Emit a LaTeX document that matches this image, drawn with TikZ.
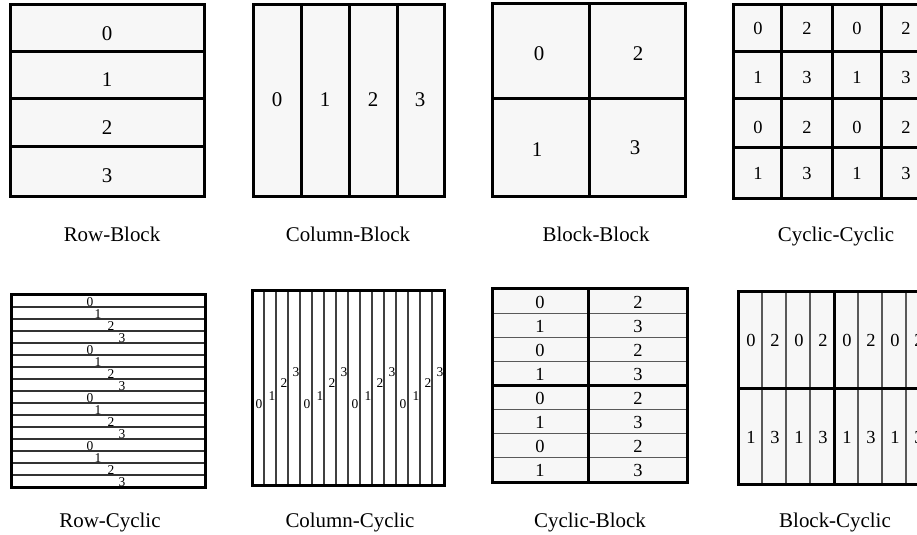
\documentclass[tikz,border=0pt]{standalone}
\usepackage{fontspec}
\setmainfont{Liberation Serif}
\begin{document}
\begin{tikzpicture}[x=1bp,y=-1bp,
  thickline/.style={line width=3bp, draw=black},
  thinline/.style={line width=1.1bp, draw=black!65},
  cellfill/.style={fill=black!3},
  bignum/.style={font=\fontsize{21}{21}\selectfont, inner sep=0pt},
  midnum/.style={font=\fontsize{18.5}{18.5}\selectfont, inner sep=0pt},
  smallnum/.style={font=\fontsize{13.5}{13.5}\selectfont, inner sep=0pt},
  caption/.style={font=\fontsize{21}{21}\selectfont, inner sep=0pt, anchor=base}]
\useasboundingbox (0,0) rectangle (917,535);
\clip (0,0) rectangle (917,535);

% ---------- Panel 1: Row-Block ----------
\fill[cellfill] (10,5) rectangle (204,197);
\foreach \y in {52,99,147} \draw[thickline] (10,\y) -- (204,\y);
\draw[thickline] (10,5) rectangle (204,197);
\foreach \d/\y in {0/34,1/80,2/128,3/176} \node[bignum] (rb\d) at (107,\y) {\d};
\node[caption] (caprb) at (112,242) {Row-Block};

% ---------- Panel 2: Column-Block ----------
\fill[cellfill] (253,5) rectangle (444,197);
\foreach \x in {301,349,397} \draw[thickline] (\x,5) -- (\x,197);
\draw[thickline] (253,5) rectangle (444,197);
\foreach \d/\x in {0/277,1/325,2/373,3/420} \node[bignum] (cb\d) at (\x,100) {\d};
\node[caption] (capcb) at (348,242) {Column-Block};

% ---------- Panel 3: Block-Block ----------
\fill[cellfill] (492,4) rectangle (685,197);
\draw[thickline] (589,4) -- (589,197);
\draw[thickline] (492,99) -- (685,99);
\draw[thickline] (492,4) rectangle (685,197);
\node[bignum] (bb0) at (539,54) {0};
\node[bignum] (bb2) at (638,54) {2};
\node[bignum] (bb1) at (537,150) {1};
\node[bignum] (bb3) at (635,148) {3};
\node[caption] (capbb) at (596,242) {Block-Block};

% ---------- Panel 4: Cyclic-Cyclic ----------
\fill[cellfill] (733,5) rectangle (930,199);
\foreach \x in {781,832,881} \draw[thickline] (\x,5) -- (\x,199);
\foreach \y in {52,99,148} \draw[thickline] (733,\y) -- (930,\y);
\draw[thickline] (733,5) rectangle (930,199);
\foreach \r/\y in {0/28,1/77,2/127,3/173}
  \foreach \c/\x in {0/758,1/807,2/857,3/906} {
    \pgfmathtruncatemacro{\lab}{mod(\r,2)+2*mod(\c,2)}
    \node[midnum] (cc\r\c) at (\x,\y) {\lab};
  }
\node[caption] (capcc) at (836,242) {Cyclic-Cyclic};

% ---------- Panel 5: Row-Cyclic ----------
\fill[white] (11,295) rectangle (205,487);
\foreach \k in {1,...,15} \draw[thinline, draw=black!80] (11,295+12*\k) -- (205,295+12*\k);
\draw[thickline] (11,295) rectangle (205,487);
\foreach \k in {0,...,15} {
  \pgfmathtruncatemacro{\lab}{mod(\k,4)}
  \pgfmathsetmacro{\xx}{\lab==0 ? 90 : (\lab==1 ? 98 : (\lab==2 ? 111 : 122))}
  \node[smallnum] (rc\k) at (\xx,302.5+12*\k) {\lab};
}
\node[caption] (caprc) at (110,527) {Row-Cyclic};

% ---------- Panel 6: Column-Cyclic ----------
\fill[white] (252,291) rectangle (444,485);
\foreach \k in {1,...,15} \draw[thinline, draw=black!75] (252+12*\k,291) -- (252+12*\k,485);
\draw[thickline] (252,291) rectangle (444,485);
\foreach \g in {0,...,3}
  \foreach \d/\dx/\y in {0/7/404,1/20/396,2/32/383,3/44/372}
    \node[smallnum] (ccy\g\d) at (252+48*\g+\dx,\y) {\d};
\node[caption] (capccy) at (350,527) {Column-Cyclic};

% ---------- Panel 7: Cyclic-Block ----------
\fill[cellfill] (492,289) rectangle (687,482);
\foreach \k in {1,2,3,5,6,7} \draw[thinline] (492,289+24.1*\k) -- (687,289+24.1*\k);
\draw[thickline] (492,385) -- (687,385);
\draw[thickline] (588,289) -- (588,482);
\draw[thickline] (492,289) rectangle (687,482);
\foreach \k in {0,...,7} {
  \pgfmathtruncatemacro{\la}{mod(\k,2)}
  \pgfmathtruncatemacro{\lb}{mod(\k,2)+2}
  \node[midnum] (cyb\k a) at (540,302+24.1*\k) {\la};
  \node[midnum] (cyb\k b) at (638,302+24.1*\k) {\lb};
}
\node[caption] (capcyb) at (590,527) {Cyclic-Block};

% ---------- Panel 8: Block-Cyclic ----------
\fill[cellfill] (738,292) rectangle (930,484);
\foreach \k in {1,2,3,5,6,7} \draw[thinline] (738+24*\k,292) -- (738+24*\k,484);
\draw[thickline] (738,388) -- (930,388);
\draw[thickline] (834,292) -- (834,484);
\draw[thickline] (738,292) rectangle (930,484);
\foreach \k in {0,...,7} {
  \pgfmathtruncatemacro{\la}{2*mod(\k,2)}
  \pgfmathtruncatemacro{\lb}{2*mod(\k,2)+1}
  \node[midnum] (bcy\k a) at (751+24*\k,340) {\la};
  \node[midnum] (bcy\k b) at (751+24*\k,437) {\lb};
}
\node[caption] (capbcy) at (835,527) {Block-Cyclic};
\end{tikzpicture}
\end{document}
